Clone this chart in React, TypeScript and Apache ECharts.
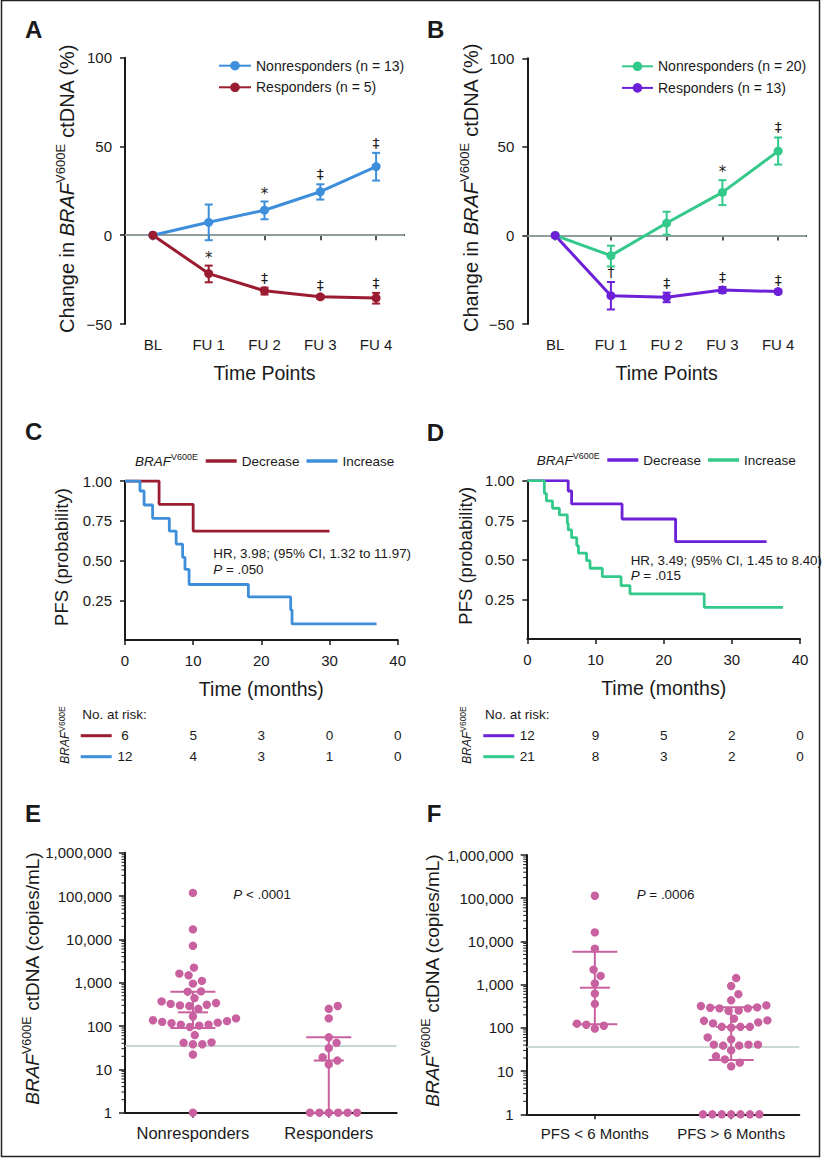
import React, { useEffect, useRef } from 'react';
import * as echarts from 'echarts';

const FONT = 'Liberation Sans, Arial, Helvetica, sans-serif';
const INK = '#1a1a1a';
const BLUE = '#3d8edb';
const DARKRED = '#9b1c31';
const GREEN = '#33c98a';
const PURPLE = '#6c21d8';
const PINK = '#c9609f';
const REFLINE = '#b8cbc7';

// ---------- Panels A / B : change in ctDNA ----------
const timePoints = ['BL', 'FU 1', 'FU 2', 'FU 3', 'FU 4'];
const aNonMean = [0, 7.3, 14.1, 24.5, 38.7];
const aNonLow = [0, -2.8, 9.0, 20.1, 30.8];
const aNonHigh = [0, 17.3, 19.0, 28.7, 46.4];
const aNonSig = ['', '', '*', '‡', '‡'];
const aRespMean = [0, -21.6, -31.3, -34.7, -35.3];
const aRespLow = [0, -26.5, -33.4, -35.8, -38.5];
const aRespHigh = [0, -17.1, -29.5, -33.7, -32.5];
const aRespSig = ['', '*', '‡', '‡', '‡'];

const bNonMean = [0, -11.4, 7.0, 24.3, 47.6];
const bNonLow = [0, -17.5, 0.4, 17.1, 40.0];
const bNonHigh = [0, -5.8, 13.4, 31.2, 55.3];
const bNonSig = ['', '', '', '*', '‡'];
const bRespMean = [0, -34.0, -34.9, -30.8, -31.7];
const bRespLow = [0, -41.8, -37.7, -32.5, -32.8];
const bRespHigh = [0, -26.3, -32.3, -29.1, -30.6];
const bRespSig = ['', '†', '‡', '‡', '‡'];

const aNames = ['Nonresponders (n = 13)', 'Responders (n = 5)'];
const bNames = ['Nonresponders (n = 20)', 'Responders (n = 13)'];

// ---------- Panels C / D : Kaplan-Meier ----------
const cDecT = [0, 5, 10, 30];
const cDecS = [1, 0.853, 0.685, 0.685];
const cIncT = [0, 2.2, 2.8, 4.05, 6.5, 7.5, 8.45, 8.8, 9.4, 18.1, 24.3, 24.5, 36.9];
const cIncS = [1, 0.937, 0.849, 0.765, 0.685, 0.603, 0.52, 0.444, 0.349, 0.271, 0.19, 0.101, 0.101];

const dDecT = [0, 6.0, 6.5, 13.9, 21.75, 35.1];
const dDecS = [1, 0.935, 0.853, 0.758, 0.615, 0.615];
const dIncT = [0, 2.5, 2.8, 3.7, 4.7, 5.87, 6.0, 6.5, 7.25, 7.5, 8.7, 9.2, 11.0, 13.75, 15.06, 25.95, 37.5];
const dIncS = [1, 0.92, 0.872, 0.826, 0.784, 0.731, 0.689, 0.64, 0.59, 0.542, 0.495, 0.447, 0.394, 0.337, 0.285, 0.2, 0.2];

const atRiskTimes = [0, 10, 20, 30, 40];
const cRiskDec = [6, 5, 3, 0, 0];
const cRiskInc = [12, 4, 3, 1, 0];
const dRiskDec = [12, 9, 5, 2, 0];
const dRiskInc = [21, 8, 3, 2, 0];
const riskRows = ['Decrease', 'Increase'];

const cHR = 'HR, 3.98; (95% CI, 1.32 to 11.97)';
const cP = ' = .050';
const dHR = 'HR, 3.49; (95% CI, 1.45 to 8.40)';
const dP = ' = .015';

// ---------- Panels E / F : ctDNA copies ----------
const eGroups = ['Nonresponders', 'Responders'];
const eNon = [118000, 17000, 7100, 2230, 1620, 1480, 1100, 950, 630, 620, 440, 370, 340, 325, 310, 300, 290, 250,
  166, 150, 136, 130, 125, 120, 116, 108, 108, 102, 95, 62, 42, 41, 38, 38, 22, 1];
const eResp = [290, 250, 150, 55, 41, 31, 19, 16, 13, 1, 1, 1, 1, 1, 1];
const eQ1 = [90, 1];
const eMedian = [207, 16];
const eQ3 = [620, 55];
const eP = ' < .0001';

const fGroups = ['PFS < 6 Months', 'PFS > 6 Months'];
const fLt6 = [114000, 16200, 6800, 2220, 1590, 1070, 620, 357, 125, 118, 112, 96];
const fGt6 = [1420, 930, 600, 435, 331, 320, 298, 292, 283, 283, 251, 246, 163, 149, 146, 134, 127, 106, 106, 106,
  101, 60, 54, 41, 41, 41, 39, 39, 30, 22, 18.7, 15.7, 12.9, 1, 1, 1, 1, 1, 1, 1];
const fQ1 = [121, 18];
const fMedian = [850, 105];
const fQ3 = [5800, 300];
const fP = ' = .0006';

const detectionLimit = 36;
const logMinorTicks: number[] = [];
for (let d = 0; d < 6; d++) for (let m = 2; m <= 9; m++) logMinorTicks.push(m * Math.pow(10, d));

// ---------- helpers ----------
const richSet = (size: number, sup: number) => ({
  n: { fontSize: size, fontFamily: FONT, fill: INK, lineHeight: size * 1.3 },
  i: { fontSize: size, fontFamily: FONT, fontStyle: 'italic', fill: INK, lineHeight: size * 1.3 },
  s: { fontSize: sup, fontFamily: FONT, fill: INK, lineHeight: sup, verticalAlign: 'top' },
});

const txt = (x: number, y: number, text: string, o: any = {}) => ({
  type: 'text',
  x,
  y,
  rotation: o.rotation || 0,
  silent: true,
  z: 10,
  style: {
    text,
    fontSize: o.size || 13.5,
    fontFamily: o.family || FONT,
    fontStyle: o.italic ? 'italic' : 'normal',
    fontWeight: o.bold ? 'bold' : 'normal',
    fill: INK,
    align: o.align || 'left',
    verticalAlign: 'middle',
    rich: o.rich,
    legacy: false,
  },
});

const segment = (x1: number, y1: number, x2: number, y2: number, stroke: string, w: number) => ({
  type: 'line',
  shape: { x1, y1, x2, y2 },
  style: { stroke, lineWidth: w },
});

const errorBarRender = (color: string) => (params: any, api: any) => {
  const i = api.value(0);
  const lo = api.coord([i, api.value(1)]);
  const hi = api.coord([i, api.value(2)]);
  return {
    type: 'group',
    children: [
      segment(lo[0], lo[1], hi[0], hi[1], color, 2),
      segment(lo[0] - 4, lo[1], lo[0] + 4, lo[1], color, 2),
      segment(hi[0] - 4, hi[1], hi[0] + 4, hi[1], color, 2),
    ],
  };
};

const sigRender = (sig: string[]) => (params: any, api: any) => {
  const i = api.value(0);
  const s = sig[i];
  if (!s) return null;
  const hi = api.coord([i, api.value(2)]);
  return {
    type: 'text',
    x: hi[0],
    y: hi[1] - (s === '*' ? 8 : 10),
    style: {
      text: s,
      fontSize: s === '*' ? 15 : 14,
      fontFamily: 'DejaVu Sans, Liberation Sans, sans-serif',
      fill: '#1a1a1a',
      stroke: 'none',
      lineWidth: 0,
      align: 'center',
      verticalAlign: 'middle',
      legacy: false,
    },
  };
};

const errorData = (lo: number[], hi: number[]) =>
  timePoints.map((_, i) => [i, lo[i], hi[i]]).filter((d) => d[0] > 0);

const swarmRender = (values: number[], center: number) => (params: any, api: any) => {
  const ctx = params.context;
  if (!ctx.pos) {
    const D = 9.4;
    const base = values.map((v, i) => ({ i, p: api.coord([center, v]) }));
    base.sort((a, b) => b.p[1] - a.p[1]);
    const placed: { x: number; y: number }[] = [];
    const out: number[][] = new Array(values.length);
    for (const b of base) {
      const cx = b.p[0];
      const y = b.p[1];
      const cands = [0];
      for (const q of placed) {
        const dy = Math.abs(q.y - y);
        if (dy < D) {
          const dx = Math.sqrt(D * D - dy * dy);
          cands.push(q.x - cx + dx, q.x - cx - dx);
        }
      }
      cands.sort((a, c) => Math.abs(a) - Math.abs(c) || c - a);
      let best = 0;
      for (const c of cands) {
        const ok = placed.every((q) => (q.x - (cx + c)) ** 2 + (q.y - y) ** 2 >= D * D - 0.05);
        if (ok) {
          best = c;
          break;
        }
      }
      placed.push({ x: cx + best, y });
      out[b.i] = [cx + best, y];
    }
    ctx.pos = out;
  }
  const p = ctx.pos[params.dataIndex];
  return { type: 'circle', shape: { cx: p[0], cy: p[1], r: 4.2 }, style: { fill: PINK } };
};

const statsRender = (params: any, api: any) => {
  const x = api.value(0);
  const q1 = api.coord([x, api.value(1)]);
  const md = api.coord([x, api.value(2)]);
  const q3 = api.coord([x, api.value(3)]);
  return {
    type: 'group',
    children: [
      segment(q1[0], q1[1], q3[0], q3[1], PINK, 2),
      segment(q1[0] - 22.5, q1[1], q1[0] + 22.5, q1[1], PINK, 2),
      segment(q3[0] - 22.5, q3[1], q3[0] + 22.5, q3[1], PINK, 2),
      segment(md[0] - 15, md[1], md[0] + 15, md[1], PINK, 2),
    ],
  };
};

const minorTickRender = (params: any, api: any) => {
  const p = api.coord([0, api.value(1)]);
  return segment(p[0] - 3.5, p[1], p[0], p[1], INK, 1);
};

const riskTextRender = (params: any, api: any) => {
  const p = api.coord([api.value(0), api.value(1)]);
  return {
    type: 'text',
    x: p[0],
    y: p[1],
    style: {
      text: String(api.value(2)),
      fontSize: 13.5,
      fontFamily: FONT,
      fill: INK,
      stroke: 'none',
      align: 'center',
      verticalAlign: 'middle',
      legacy: false,
    },
  };
};

const axisLine = { show: true, lineStyle: { color: INK, width: 2 } };
const axisTick = { show: true, length: 5, lineStyle: { color: INK, width: 1.5 } };
const noSplit = { show: false };
const minusFmt = (v: number) => (v < 0 ? '\u2212' + Math.abs(v) : String(v));
const logFmt = (v: number) => Math.round(v).toLocaleString('en-US');

const zeroLine = (value: number) => ({
  silent: true,
  symbol: ['none', 'none'],
  z: 1,
  label: { show: false },
  lineStyle: { color: REFLINE, width: 1.6, type: 'solid' },
  data: [{ yAxis: value }],
});

const buildOption = () => {
  const catAxisAB = (gridIndex: number) => ({
    type: 'category',
    gridIndex,
    data: timePoints,
    boundaryGap: true,
    axisLine,
    axisTick: { ...axisTick, alignWithLabel: true, interval: 0 },
    axisLabel: { fontSize: 15, color: INK, margin: 13, interval: 0 },
    splitLine: noSplit,
    name: 'Time Points',
    nameLocation: 'middle',
    nameGap: 39,
    nameTextStyle: { fontSize: 19.5, color: INK },
  });
  const valAxisAB = (gridIndex: number) => ({
    type: 'value',
    gridIndex,
    min: -50,
    max: 100,
    interval: 50,
    axisLine,
    axisTick,
    axisLabel: { fontSize: 15, color: INK, margin: 13, formatter: minusFmt },
    splitLine: noSplit,
  });
  const kmX = (gridIndex: number) => ({
    type: 'value',
    gridIndex,
    min: 0,
    max: 40,
    interval: 10,
    axisLine,
    axisTick,
    axisLabel: { fontSize: 15, color: INK, margin: 13 },
    splitLine: noSplit,
    name: 'Time (months)',
    nameLocation: 'middle',
    nameGap: 38.5,
    nameTextStyle: { fontSize: 19.5, color: INK },
  });
  const kmY = (gridIndex: number) => ({
    type: 'value',
    gridIndex,
    min: 0,
    max: 1,
    interval: 0.25,
    axisLine,
    axisTick,
    axisLabel: { fontSize: 15, color: INK, margin: 13, showMinLabel: false, formatter: (v: number) => v.toFixed(2) },
    splitLine: noSplit,
  });
  const riskX = (gridIndex: number) => ({ type: 'value', gridIndex, min: 0, max: 40, show: false, splitLine: noSplit });
  const riskY = (gridIndex: number) => ({ type: 'category', gridIndex, data: riskRows, inverse: true, show: false });
  const scatCat = (gridIndex: number, data: string[], size: number) => ({
    type: 'category',
    gridIndex,
    data,
    boundaryGap: true,
    axisLine,
    axisTick: { ...axisTick, alignWithLabel: true, interval: 0 },
    axisLabel: { fontSize: size, color: INK, margin: 12, interval: 0 },
    splitLine: noSplit,
  });
  const scatVal = (gridIndex: number) => ({ type: 'value', gridIndex, min: 0, max: 2, show: false, splitLine: noSplit });
  const logY = (gridIndex: number) => ({
    type: 'log',
    gridIndex,
    logBase: 10,
    min: 1,
    max: 1000000,
    splitNumber: 6,
    axisLine,
    axisTick: { show: true, length: 6, lineStyle: { color: INK, width: 1.5 } },
    axisLabel: { fontSize: 15, color: INK, margin: 13, formatter: logFmt },
    splitLine: noSplit,
    minorTick: { show: false },
  });

  const meanLine = (name: string, x: number, data: number[], color: string, mark?: any) => ({
    type: 'line',
    name,
    xAxisIndex: x,
    yAxisIndex: x,
    data,
    symbol: 'circle',
    symbolSize: 9,
    lineStyle: { width: 3, color },
    itemStyle: { color },
    z: 3,
    ...(mark ? { markLine: mark } : {}),
  });
  const errSeries = (x: number, lo: number[], hi: number[], color: string) => ({
    type: 'custom',
    name: 'err',
    xAxisIndex: x,
    yAxisIndex: x,
    data: errorData(lo, hi),
    encode: { x: 0, y: [1, 2] },
    renderItem: errorBarRender(color),
    z: 2,
  });
  const sigSeries = (x: number, lo: number[], hi: number[], sig: string[]) => ({
    type: 'custom',
    name: 'sig',
    xAxisIndex: x,
    yAxisIndex: x,
    data: errorData(lo, hi),
    encode: { x: 0, y: [1, 2] },
    renderItem: sigRender(sig),
    itemStyle: { color: INK },
    z: 4,
  });
  const kmLine = (name: string, x: number, t: number[], s: number[], color: string) => ({
    type: 'line',
    name,
    xAxisIndex: x,
    yAxisIndex: x,
    data: t.map((tt, i) => [tt, s[i]]),
    step: 'end',
    symbol: 'none',
    showSymbol: false,
    lineStyle: { width: 2.8, color },
    itemStyle: { color },
  });
  const riskSeries = (idx: number, dec: number[], inc: number[]) => ({
    type: 'custom',
    name: 'risk',
    xAxisIndex: idx,
    yAxisIndex: idx,
    data: [
      ...atRiskTimes.map((t, i) => [t, 0, dec[i]]),
      ...atRiskTimes.map((t, i) => [t, 1, inc[i]]),
    ],
    encode: { x: 0, y: 1 },
    renderItem: riskTextRender,
    itemStyle: { color: INK },
  });
  const swarmSeries = (name: string, x: number, y: number, values: number[], center: number) => ({
    type: 'custom',
    name,
    xAxisIndex: x,
    yAxisIndex: y,
    data: values.map((v) => [center, v]),
    encode: { x: 0, y: 1 },
    renderItem: swarmRender(values, center),
    z: 2,
  });
  const statsSeries = (x: number, y: number, q1: number[], md: number[], q3: number[]) => ({
    type: 'custom',
    name: 'stats',
    xAxisIndex: x,
    yAxisIndex: y,
    data: q1.map((v, i) => [i + 0.5, v, md[i], q3[i]]),
    encode: { x: 0, y: [1, 2, 3] },
    renderItem: statsRender,
    z: 3,
    markLine: zeroLine(detectionLimit),
  });
  const minorSeries = (x: number, y: number) => ({
    type: 'custom',
    name: 'minor',
    xAxisIndex: x,
    yAxisIndex: y,
    data: logMinorTicks.map((v) => [0, v]),
    encode: { x: 0, y: 1 },
    renderItem: minorTickRender,
    silent: true,
  });

  const legendBase = {
    padding: 0,
    itemWidth: 31,
    itemHeight: 12,
    textStyle: { fontSize: 14, color: INK, fontFamily: FONT },
    selectedMode: false,
  };

  const kmRich = richSet(13.5, 9);
  const yRichAB = richSet(20, 13);
  const yRichEF = richSet(19, 12.5);
  const riskRich = richSet(12, 8.5);
  const pRich = richSet(13.4, 9);

  const graphics: any[] = [
    { type: 'rect', shape: { x: 1.5, y: 0.5, width: 818, height: 1156 }, style: { fill: 'none', stroke: '#222', lineWidth: 1.5 }, silent: true },
    txt(25, 29, 'A', { size: 24, bold: true }),
    txt(427, 29, 'B', { size: 24, bold: true }),
    txt(25, 431.7, 'C', { size: 24, bold: true }),
    txt(426.7, 432.3, 'D', { size: 24, bold: true }),
    txt(25, 813.8, 'E', { size: 24, bold: true }),
    txt(426.7, 813.5, 'F', { size: 24, bold: true }),
    txt(67, 188.5, '{n|Change in }{i|BRAF}{s|V600E}{n| ctDNA (%)}', { rotation: Math.PI / 2, align: 'center', size: 20, rich: yRichAB }),
    txt(471, 187.5, '{n|Change in }{i|BRAF}{s|V600E}{n| ctDNA (%)}', { rotation: Math.PI / 2, align: 'center', size: 20, rich: yRichAB }),
    txt(61, 557, 'PFS (probability)', { rotation: Math.PI / 2, align: 'center', size: 18.5 }),
    txt(465, 555.8, 'PFS (probability)', { rotation: Math.PI / 2, align: 'center', size: 18.5 }),
    txt(32.5, 978.3, '{i|BRAF}{s|V600E}{n| ctDNA (copies/mL)}', { rotation: Math.PI / 2, align: 'center', size: 19, rich: yRichEF }),
    txt(432.3, 980.3, '{i|BRAF}{s|V600E}{n| ctDNA (copies/mL)}', { rotation: Math.PI / 2, align: 'center', size: 19, rich: yRichEF }),
    // KM legend prefixes
    txt(135, 461, '{i|BRAF}{s|V600E}', { rich: kmRich }),
    txt(536.7, 460, '{i|BRAF}{s|V600E}', { rich: kmRich }),
    // HR annotations
    txt(213.3, 553.3, cHR, { size: 13.4 }),
    txt(213.3, 569.3, '{i|P}{n|' + cP + '}', { rich: pRich }),
    txt(630.7, 560, dHR, { size: 13.4 }),
    txt(630.7, 575.7, '{i|P}{n|' + dP + '}', { rich: pRich }),
    // at risk tables
    txt(82.3, 714.3, 'No. at risk:', { size: 13.5 }),
    txt(485, 714, 'No. at risk:', { size: 13.5 }),
    txt(65, 735, '{i|BRAF}{s|V600E}', { rotation: Math.PI / 2, align: 'center', rich: riskRich }),
    txt(466.7, 735, '{i|BRAF}{s|V600E}', { rotation: Math.PI / 2, align: 'center', rich: riskRich }),
    { ...segment(80.7, 735.7, 111.7, 735.7, DARKRED, 3), silent: true },
    { ...segment(80.7, 756.7, 111.7, 756.7, BLUE, 3), silent: true },
    { ...segment(483.3, 735.7, 514.3, 735.7, PURPLE, 3), silent: true },
    { ...segment(483.3, 756.7, 514.3, 756.7, GREEN, 3), silent: true },
    // P values E/F
    txt(233.3, 894, '{i|P}{n|' + eP + '}', { rich: pRich }),
    txt(636.7, 894, '{i|P}{n|' + fP + '}', { rich: pRich }),
  ];

  const kmLegend = (names: string[], left: number, top: number) => ({
    ...legendBase,
    textStyle: { fontSize: 13.5, color: INK, fontFamily: FONT },
    data: names.map((n) => ({ name: n, icon: 'rect' })),
    orient: 'horizontal',
    left,
    top,
    itemWidth: 31,
    itemHeight: 3.5,
    itemGap: 7,
    formatter: (n: string) => n.replace(/^[CD]: /, ''),
  });

  return {
    animation: false,
    backgroundColor: '#ffffff',
    textStyle: { fontFamily: FONT },
    grid: [
      { left: 125, top: 57.7, width: 279, height: 266.3, outerBoundsMode: 'none' },
      { left: 527.3, top: 58.3, width: 278.7, height: 265.7, outerBoundsMode: 'none' },
      { left: 125, top: 481, width: 272.7, height: 159, outerBoundsMode: 'none' },
      { left: 527.3, top: 480.7, width: 272.7, height: 158.3, outerBoundsMode: 'none' },
      { left: 125, top: 725.2, width: 272.7, height: 42, outerBoundsMode: 'none' },
      { left: 527.3, top: 725.2, width: 272.7, height: 42, outerBoundsMode: 'none' },
      { left: 125, top: 852.7, width: 271.7, height: 260, outerBoundsMode: 'none' },
      { left: 526.7, top: 855, width: 272.6, height: 259.3, outerBoundsMode: 'none' },
    ],
    xAxis: [
      catAxisAB(0),
      catAxisAB(1),
      kmX(2),
      kmX(3),
      riskX(4),
      riskX(5),
      scatCat(6, eGroups, 16.5),
      scatVal(6),
      scatCat(7, fGroups, 15),
      scatVal(7),
    ],
    yAxis: [
      valAxisAB(0),
      valAxisAB(1),
      kmY(2),
      kmY(3),
      riskY(4),
      riskY(5),
      logY(6),
      logY(7),
    ],
    legend: [
      { ...legendBase, data: aNames, orient: 'vertical', left: 218, top: 58.7, itemWidth: 32, itemGap: 7.6 },
      { ...legendBase, data: bNames, orient: 'vertical', left: 621, top: 59.3, itemWidth: 31, itemGap: 7.6 },
      kmLegend(['C: Decrease', 'C: Increase'], 205.7, 454),
      kmLegend(['D: Decrease', 'D: Increase'], 607.3, 453),
    ],
    series: [
      meanLine(aNames[0], 0, aNonMean, BLUE, zeroLine(0)),
      meanLine(aNames[1], 0, aRespMean, DARKRED),
      errSeries(0, aNonLow, aNonHigh, BLUE),
      errSeries(0, aRespLow, aRespHigh, DARKRED),
      sigSeries(0, aNonLow, aNonHigh, aNonSig),
      sigSeries(0, aRespLow, aRespHigh, aRespSig),
      meanLine(bNames[0], 1, bNonMean, GREEN, zeroLine(0)),
      meanLine(bNames[1], 1, bRespMean, PURPLE),
      errSeries(1, bNonLow, bNonHigh, GREEN),
      errSeries(1, bRespLow, bRespHigh, PURPLE),
      sigSeries(1, bNonLow, bNonHigh, bNonSig),
      sigSeries(1, bRespLow, bRespHigh, bRespSig),
      kmLine('C: Decrease', 2, cDecT, cDecS, DARKRED),
      kmLine('C: Increase', 2, cIncT, cIncS, BLUE),
      kmLine('D: Decrease', 3, dDecT, dDecS, PURPLE),
      kmLine('D: Increase', 3, dIncT, dIncS, GREEN),
      riskSeries(4, cRiskDec, cRiskInc),
      riskSeries(5, dRiskDec, dRiskInc),
      swarmSeries('E: Nonresponders', 7, 6, eNon, 0.5),
      swarmSeries('E: Responders', 7, 6, eResp, 1.5),
      statsSeries(7, 6, eQ1, eMedian, eQ3),
      minorSeries(7, 6),
      swarmSeries('F: PFS < 6', 9, 7, fLt6, 0.5),
      swarmSeries('F: PFS > 6', 9, 7, fGt6, 1.5),
      statsSeries(9, 7, fQ1, fMedian, fQ3),
      minorSeries(9, 7),
    ],
    graphic: { elements: graphics },
  };
};

export default function App() {
  const ref = useRef<HTMLDivElement>(null);
  useEffect(() => {
    document.body.style.margin = '0';
    const chart = echarts.init(ref.current as HTMLDivElement, null, { renderer: 'svg', width: 823, height: 1159 });
    chart.setOption(buildOption() as any);
    return () => chart.dispose();
  }, []);
  return (
    <div
      ref={ref}
      style={{ position: 'absolute', left: 0, top: 0, width: 823, height: 1159, background: '#fff' }}
    />
  );
}
